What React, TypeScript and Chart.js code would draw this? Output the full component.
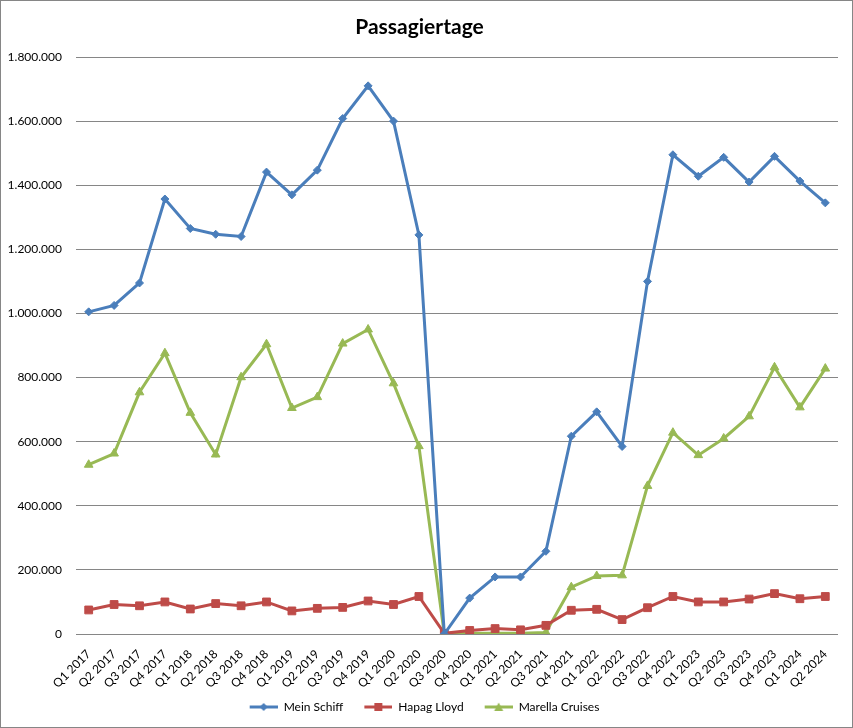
import { useEffect, useRef } from "react"
import { Chart, registerables } from "chart.js"

Chart.register(...registerables)

const quarters = [
  "Q1 2017", "Q2 2017", "Q3 2017", "Q4 2017",
  "Q1 2018", "Q2 2018", "Q3 2018", "Q4 2018",
  "Q1 2019", "Q2 2019", "Q3 2019", "Q4 2019",
  "Q1 2020", "Q2 2020", "Q3 2020", "Q4 2020",
  "Q1 2021", "Q2 2021", "Q3 2021", "Q4 2021",
  "Q1 2022", "Q2 2022", "Q3 2022", "Q4 2022",
  "Q1 2023", "Q2 2023", "Q3 2023", "Q4 2023",
  "Q1 2024", "Q2 2024",
]

const meinSchiff = [
  1005000, 1025000, 1095000, 1357000,
  1265000, 1247000, 1240000, 1441000,
  1370000, 1447000, 1608000, 1710000,
  1600000, 1245000, 0, 112000,
  178000, 178000, 258000, 617000,
  693000, 585000, 1100000, 1495000,
  1428000, 1487000, 1410000, 1490000,
  1413000, 1345000,
]

const hapagLloyd = [
  75000, 92000, 88000, 100000,
  78000, 95000, 88000, 100000,
  72000, 80000, 83000, 103000,
  92000, 117000, 2000, 11000,
  17000, 13000, 27000, 74000,
  77000, 45000, 82000, 117000,
  100000, 100000, 109000, 126000,
  110000, 117000,
]

const marellaCruises = [
  528000, 563000, 754000, 876000,
  690000, 560000, 801000, 904000,
  705000, 739000, 906000, 950000,
  782000, 586000, 0, 2000,
  2000, 2000, 5000, 146000,
  181000, 183000, 462000, 628000,
  558000, 610000, 679000, 832000,
  707000, 828000,
]

const seriesNames = ["Mein Schiff", "Hapag Lloyd", "Marella Cruises"]
const yTicksMax = 1800000
const yTicksStep = 200000

const BLUE = "rgb(74, 126, 187)"
const RED = "rgb(190, 75, 72)"
const GREEN = "rgb(152, 185, 84)"
const GRID = "#868686"
const FONT = "Lato, 'Open Sans', sans-serif"

function formatDE(v: number) {
  return String(v).replace(/\B(?=(\d{3})+(?!\d))/g, ".")
}

// legend icon: line with marker, leading transparent gap for item spacing
function makeIcon(color: string, marker: "diamond" | "square" | "triangle") {
  const lead = 10
  const c = document.createElement("canvas")
  c.width = lead + 28
  c.height = 12
  const g = c.getContext("2d")!
  g.strokeStyle = color
  g.fillStyle = color
  g.lineWidth = 3
  g.beginPath()
  g.moveTo(lead, 6)
  g.lineTo(lead + 28, 6)
  g.stroke()
  const cx = lead + 14
  g.beginPath()
  if (marker === "diamond") {
    g.moveTo(cx, 2)
    g.lineTo(cx + 4, 6)
    g.lineTo(cx, 10)
    g.lineTo(cx - 4, 6)
  } else if (marker === "square") {
    g.rect(cx - 4, 2, 8, 8)
  } else {
    g.moveTo(cx, 1.5)
    g.lineTo(cx + 4.5, 10)
    g.lineTo(cx - 4.5, 10)
  }
  g.closePath()
  g.fill()
  return c
}

export default function App() {
  const canvasRef = useRef<HTMLCanvasElement>(null)
  const chartRef = useRef<Chart | null>(null)

  useEffect(() => {
    document.body.style.margin = "0"
    if (!canvasRef.current) return
    if (chartRef.current) chartRef.current.destroy()

    const icons = [
      makeIcon(BLUE, "diamond"),
      makeIcon(RED, "square"),
      makeIcon(GREEN, "triangle"),
    ]

    chartRef.current = new Chart(canvasRef.current, {
      type: "line",
      data: {
        labels: quarters,
        datasets: [
          {
            label: seriesNames[0],
            data: meinSchiff,
            borderColor: BLUE,
            backgroundColor: BLUE,
            borderWidth: 3,
            pointStyle: "rectRot",
            pointRadius: 4,
            pointBorderWidth: 1,
            tension: 0,
          },
          {
            label: seriesNames[1],
            data: hapagLloyd,
            borderColor: RED,
            backgroundColor: RED,
            borderWidth: 3,
            pointStyle: "rect",
            pointRadius: 5.5,
            pointBorderWidth: 1,
            tension: 0,
          },
          {
            label: seriesNames[2],
            data: marellaCruises,
            borderColor: GREEN,
            backgroundColor: GREEN,
            borderWidth: 3,
            pointStyle: "triangle",
            pointRadius: 5,
            pointBorderWidth: 1,
            tension: 0,
          },
        ],
      },
      options: {
        responsive: false,
        animation: false,
        layout: { padding: { left: 0, right: 14, top: 0, bottom: 4 } },
        scales: {
          x: {
            offset: true,
            grid: { display: false, drawTicks: false },
            border: { display: false },
            ticks: {
              autoSkip: false,
              minRotation: 45,
              maxRotation: 45,
              padding: 13,
              color: "#000",
              font: { family: FONT, size: 12 },
            },
            afterFit: (scale) => {
              scale.height = 56
            },
          },
          y: {
            min: 0,
            max: yTicksMax,
            grid: { color: GRID, drawTicks: false },
            border: { display: false },
            ticks: {
              stepSize: yTicksStep,
              padding: 14,
              color: "#000",
              font: { family: FONT, size: 12 },
              callback: (v) => formatDE(Number(v)),
            },
            afterFit: (scale) => {
              scale.width = 75
            },
          },
        },
        plugins: {
          title: {
            display: true,
            text: "Passagiertage",
            color: "#000",
            font: { family: FONT, size: 21, weight: "bold", lineHeight: 1.2 },
            padding: { top: 14, bottom: 16.8 },
          },
          legend: {
            position: "bottom",
            labels: {
              usePointStyle: true,
              pointStyleWidth: 38,
              padding: 11,
              color: "#000",
              font: { family: FONT, size: 12 },
              generateLabels: (chart) =>
                Chart.defaults.plugins.legend.labels
                  .generateLabels(chart)
                  .map((item, i) => ({ ...item, pointStyle: icons[i] })),
            },
          },
          tooltip: { enabled: false },
        },
      },
    })

    return () => {
      if (chartRef.current) {
        chartRef.current.destroy()
        chartRef.current = null
      }
    }
  }, [])

  return (
    <div
      style={{
        width: 853,
        height: 728,
        boxSizing: "border-box",
        border: "1px solid #868686",
        background: "#fff",
      }}
    >
      <canvas ref={canvasRef} width={851} height={726} style={{ display: "block" }} />
    </div>
  )
}
